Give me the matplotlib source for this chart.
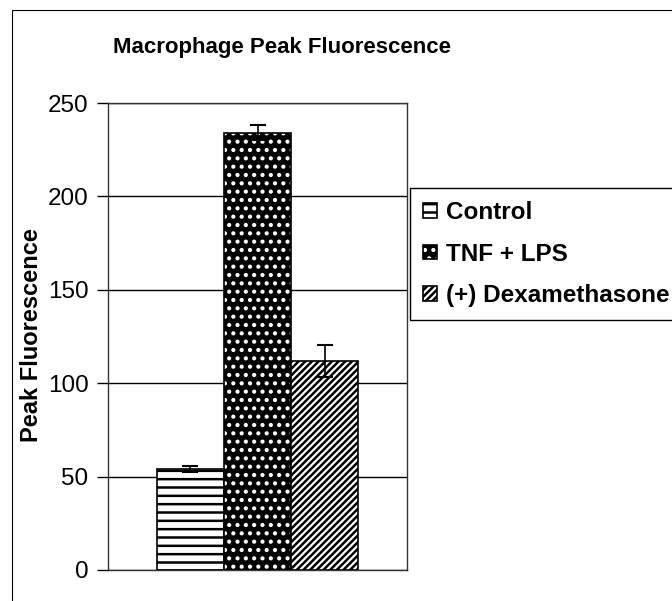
import matplotlib.pyplot as plt
from matplotlib.patches import Rectangle
from matplotlib.legend_handler import HandlerTuple

plt.rcParams['font.family'] = ['Liberation Sans', 'DejaVu Sans']
plt.rcParams['hatch.linewidth'] = 1.8

# dados
series = ['Control', 'TNF + LPS', '(+) Dexamethasone']
valores = [54, 234, 112]
erros = [1.5, 4, 8.5]
y_ticks = [0, 50, 100, 150, 200, 250]

fig = plt.figure(figsize=(6.72, 6.01), dpi=100)
ax = fig.add_axes([108 / 672, 1 - 570 / 601, 299 / 672, 467 / 601])

# moldura externa (area do grafico do Excel, cortada a direita e embaixo)
fig.patches.append(Rectangle((12 / 672, -0.1), 1.2, 1 - 10 / 601 + 0.1,
                             transform=fig.transFigure, fill=False,
                             edgecolor='black', linewidth=0.8))

pos = [-1, 0, 1]

# Control: linhas horizontais
b1 = ax.bar(pos[0], valores[0], width=1, facecolor='white', edgecolor='black',
            hatch='--', linewidth=1.2, zorder=3)
# TNF + LPS: fundo preto com pontos brancos
b2a = ax.bar(pos[1], valores[1], width=1, facecolor='black', edgecolor='white',
             hatch='..', linewidth=0, zorder=3)
b2b = ax.bar(pos[1], valores[1], width=1, facecolor='none', edgecolor='black',
             linewidth=1.2, zorder=3)
# Dexamethasone: diagonais
b3 = ax.bar(pos[2], valores[2], width=1, facecolor='white', edgecolor='black',
            hatch='/////', linewidth=1.2, zorder=3)

ax.errorbar(pos, valores, yerr=erros, fmt='none', ecolor='black',
            elinewidth=1.2, capsize=6, capthick=1.5, zorder=4)

ax.set_xlim(-2.23, 2.23)
ax.set_ylim(0, 250)
ax.set_yticks(y_ticks)
ax.set_yticklabels([str(t) for t in y_ticks], fontsize=17.5)
ax.set_xticks([])
ax.tick_params(axis='y', direction='out', length=8, width=1, pad=6)
ax.yaxis.grid(True, color='black', linewidth=1.0, zorder=0)
ax.set_axisbelow(True)
for s in ax.spines.values():
    s.set_linewidth(1.0)
    s.set_color('#333333')

fig.text(32 / 672, 1 - 335 / 601, 'Peak Fluorescence', rotation=90,
         ha='center', va='center', fontsize=17, fontweight='bold')
fig.text(282 / 672, 1 - 48 / 601, 'Macrophage Peak Fluorescence',
         ha='center', va='center', fontsize=16, fontweight='bold')

leg = fig.legend([b1[0], (b2a[0], b2b[0]), b3[0]], series,
                 handler_map={tuple: HandlerTuple(ndivide=1, pad=0)},
                 loc='upper left', bbox_to_anchor=(410 / 672, 1 - 188 / 601),
                 borderaxespad=0, fancybox=False, edgecolor='black',
                 framealpha=1, handlelength=0.55, handleheight=0.55,
                 handletextpad=0.4, labelspacing=0.75, borderpad=0.55,
                 prop={'size': 17.5, 'weight': 'bold'})
leg.get_frame().set_linewidth(1.0)

fig.savefig('out.png', dpi=100)
